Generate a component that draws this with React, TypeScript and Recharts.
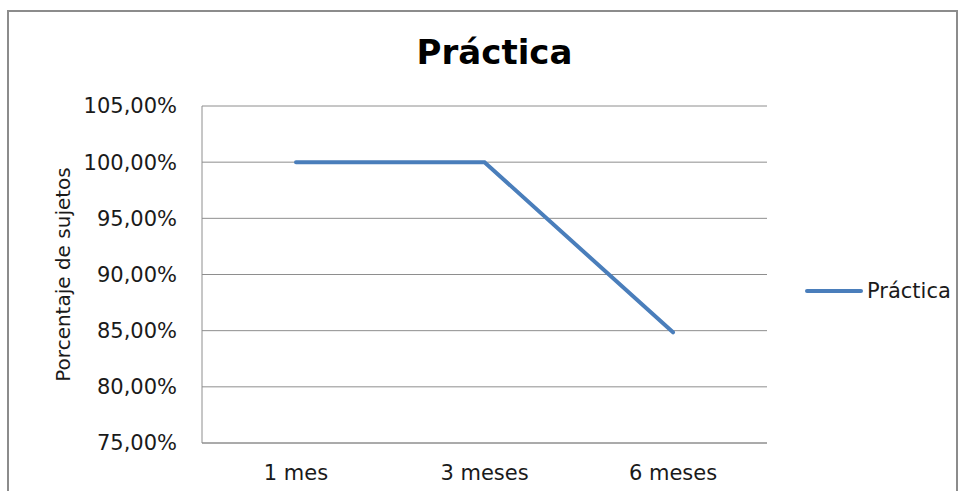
import React from 'react';
import { LineChart, Line, XAxis, YAxis, CartesianGrid, Legend } from 'recharts';

const categories = ['1 mes', '3 meses', '6 meses'];
const practica = [100, 100, 84.85];
const yTicks = [75, 80, 85, 90, 95, 100, 105];
const seriesName = 'Práctica';
const chartTitle = 'Práctica';
const yLabel = 'Porcentaje de sujetos';

const data = categories.map((c, i) => ({ cat: c, practica: practica[i] }));

const FONT = 'DejaVu Sans';
const LINE_COLOR = '#4a7ebb';
const GRID_COLOR = '#8e8e8e';

const fmt = (v: number) => v.toFixed(2).replace('.', ',') + '%';

const LegendContent = () => (
  <div style={{ display: 'flex', alignItems: 'center', fontFamily: FONT, fontSize: 21, color: '#1a1a1a', whiteSpace: 'nowrap' }}>
    <svg width={58} height={10} style={{ display: 'block' }}>
      <line x1={2} y1={5} x2={56} y2={5} stroke={LINE_COLOR} strokeWidth={4} strokeLinecap="round" />
    </svg>
    <span style={{ marginLeft: 4, lineHeight: '24px' }}>{seriesName}</span>
  </div>
);

const YLabel = (props: any) => {
  const vb = props.viewBox || { y: 106, height: 337 };
  const cy = vb.y + vb.height / 2;
  const x = 70;
  return (
    <text x={x} y={cy} transform={`rotate(-90 ${x} ${cy})`} textAnchor="middle" fontFamily={FONT} fontSize={20} fill="#1a1a1a">
      {yLabel}
    </text>
  );
};

export default function App() {
  return (
    <div style={{ position: 'absolute', left: 0, top: 0, width: 966, height: 491, overflow: 'hidden', background: '#fff' }}>
      <div style={{ position: 'absolute', left: 7, top: 10, width: 951, height: 481, boxSizing: 'border-box', border: '2px solid #8c8c8c', borderBottom: 'none' }} />
      <div style={{ position: 'absolute', left: 0, top: 0 }}>
        <LineChart width={966} height={491} data={data} margin={{ top: 106, right: 199, bottom: 8, left: 142 }}>
          <CartesianGrid vertical={false} stroke={GRID_COLOR} strokeWidth={1} />
          <XAxis
            dataKey="cat"
            height={40}
            padding={{ left: 94, right: 94 }}
            tickLine={false}
            tickSize={0}
            tickMargin={22}
            axisLine={{ stroke: GRID_COLOR }}
            tick={{ fontFamily: FONT, fontSize: 21, fill: '#1a1a1a' }}
            interval={0}
          />
          <YAxis
            width={60}
            domain={[75, 105]}
            ticks={yTicks}
            allowDataOverflow
            tickFormatter={fmt}
            tickLine={false}
            tickSize={0}
            tickMargin={25}
            axisLine={{ stroke: GRID_COLOR }}
            tick={{ fontFamily: FONT, fontSize: 21, fill: '#1a1a1a' }}
            label={<YLabel />}
          />
          <Legend
            layout="vertical"
            align="center"
            verticalAlign="middle"
            content={<LegendContent />}
            wrapperStyle={{ left: 805, top: 279, width: 160, height: 24 }}
          />
          <Line
            type="linear"
            dataKey="practica"
            name={seriesName}
            stroke={LINE_COLOR}
            strokeWidth={4}
            strokeLinecap="round"
            dot={false}
            activeDot={false}
            isAnimationActive={false}
          />
        </LineChart>
      </div>
      <svg width={966} height={100} style={{ position: 'absolute', left: 0, top: 0, pointerEvents: 'none' }}>
        <text x={494.5} y={64} textAnchor="middle" fontFamily={FONT} fontWeight="bold" fontSize={34} fill="#000">
          {chartTitle}
        </text>
      </svg>
    </div>
  );
}
